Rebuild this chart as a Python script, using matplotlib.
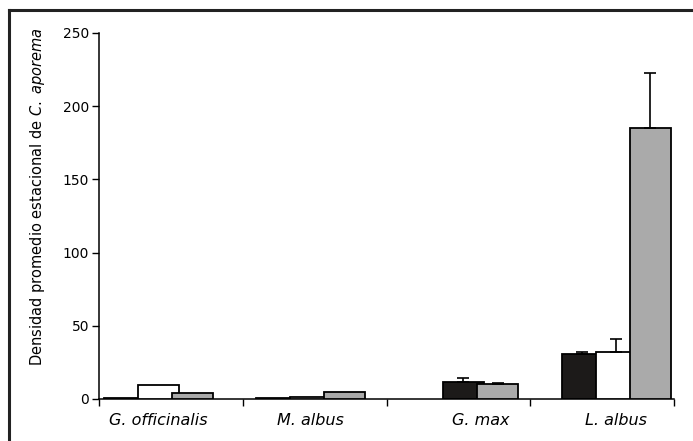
import numpy as np
import matplotlib
matplotlib.use("Agg")
import matplotlib.pyplot as plt
from matplotlib.lines import Line2D

plt.rcParams["font.family"] = "DejaVu Sans"
plt.rcParams["mathtext.fontset"] = "custom"
plt.rcParams["mathtext.rm"] = "DejaVu Sans"
plt.rcParams["mathtext.it"] = "DejaVu Sans:italic"

# Seasonal mean density per host plant, three series each
groups = ["G. officinalis", "M. albus", "G. max", "L. albus"]
black = [1.0, 0.5, 11.8, 30.5]
black_err = [0, 0, 2.7, 1.4]
white = [9.5, 1.5, np.nan, 32.1]
white_err = [0, 0, 0, 9.1]
gray = [4.0, 4.8, 10.0, 185.3]
gray_err = [0, 0, 0.7, 37.2]

series = [
    (black, black_err, "#1c1a19"),
    (white, white_err, "white"),
    (gray, gray_err, "#aaaaaa"),
]
centers = [0.415, 1.474, 2.654, 3.599]
step = 0.237
width = 0.285

W, H = 693, 441
fig = plt.figure(figsize=(W / 100, H / 100), dpi=100)
ax = fig.add_axes([99 / W, (H - 399) / H, (674 - 99) / W, (399 - 33) / H])

for g, c in enumerate(centers):
    present = [s for s in series if not np.isnan(s[0][g])]
    n = len(present)
    for i, (vals, errs, col) in enumerate(present):
        x = c + (i - (n - 1) / 2) * step
        ax.bar(x, vals[g], width=width, color=col, edgecolor="black",
               linewidth=1.3, zorder=2 + i)
        if errs[g] > 0:
            ax.errorbar(x, vals[g], yerr=[[0], [errs[g]]], fmt="none",
                        ecolor="black", elinewidth=1.2, capsize=4.3,
                        capthick=1.2, zorder=2 + i)

ax.set_xlim(0, 4)
ax.set_ylim(0, 250)
ax.set_yticks([0, 50, 100, 150, 200, 250])
ax.set_xticks([0, 1, 2, 3, 4])
ax.set_xticklabels([])
ax.tick_params(axis="both", direction="out", length=5, width=1, labelsize=10,
               color="black")
ax.tick_params(axis="y", pad=2)
for side in ["top", "right"]:
    ax.spines[side].set_visible(False)
for side in ["left", "bottom"]:
    ax.spines[side].set_linewidth(1.1)

for name, c in zip(groups, centers):
    ax.text(c, -0.058, name, transform=ax.get_xaxis_transform(), ha="center",
            va="center", fontsize=11.5, style="italic")

fig.text(38 / W, 1 - 197 / H,
         r"Densidad promedio estacional de $\mathit{C.\ aporema}$",
         rotation=90, ha="center", va="center", fontsize=10.5)

# outer frame, left and top edges
fig.add_artist(Line2D([9 / W, 9 / W], [0, 1 - 10 / H], transform=fig.transFigure,
                      color="#222222", linewidth=2.2))
fig.add_artist(Line2D([9 / W, 1], [1 - 10 / H, 1 - 10 / H], transform=fig.transFigure,
                      color="#222222", linewidth=2.2))

fig.savefig("out.png", dpi=100)
